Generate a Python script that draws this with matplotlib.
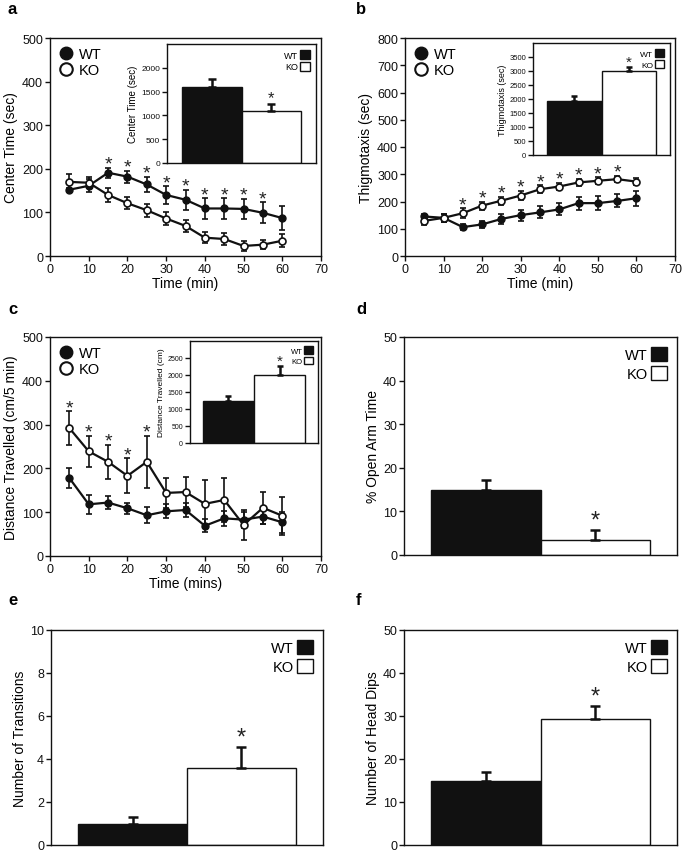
import matplotlib

matplotlib.use("Agg")
import matplotlib.pyplot as plt
from matplotlib.lines import Line2D
from matplotlib.patches import Patch

plt.rcParams["font.family"] = ["Liberation Sans", "DejaVu Sans"]

# ---- data ------------------------------------------------------------------
time = [5, 10, 15, 20, 25, 30, 35, 40, 45, 50, 55, 60]
groups = ["WT", "KO"]

center_wt = [152, 161, 191, 182, 164, 140, 129, 109, 109, 108, 99, 87]
center_wt_err = [5, 15, 11, 14, 18, 20, 23, 23, 23, 23, 24, 28]
center_ko = [170, 168, 140, 121, 105, 86, 69, 42, 39, 23, 26, 35]
center_ko_err = [18, 13, 16, 14, 15, 16, 14, 13, 13, 12, 11, 15]
center_stars = [15, 20, 25, 30, 35, 40, 45, 50, 55]
center_total = [1600, 1100]
center_total_err = [175, 135]

thigmo_wt = [145, 140, 106, 116, 136, 150, 160, 171, 194, 194, 202, 212]
thigmo_wt_err = [10, 15, 10, 12, 18, 20, 22, 22, 24, 25, 24, 28]
thigmo_ko = [129, 140, 157, 185, 203, 222, 245, 255, 270, 276, 282, 273]
thigmo_ko_err = [15, 15, 18, 15, 15, 17, 15, 14, 14, 13, 12, 14]
thigmo_stars = [15, 20, 25, 30, 35, 40, 45, 50, 55]
thigmo_total = [1920, 3000]
thigmo_total_err = [180, 140]

dist_wt = [178, 118, 122, 109, 93, 102, 105, 69, 86, 83, 90, 77]
dist_wt_err = [23, 21, 15, 12, 18, 16, 15, 15, 17, 18, 16, 24]
dist_ko = [292, 239, 215, 183, 215, 144, 146, 119, 128, 71, 110, 92]
dist_ko_err = [38, 36, 39, 40, 60, 34, 34, 55, 50, 34, 36, 43]
dist_stars = [5, 10, 15, 20, 25]
dist_total = [1230, 2000]
dist_total_err = [145, 255]

open_arm = [15.0, 3.4]
open_arm_err = [2.2, 2.3]
transitions = [1.0, 3.6]
transitions_err = [0.3, 0.95]
head_dips = [15.0, 29.2]
head_dips_err = [2.0, 3.1]

W, H = 685, 854
INK = "#111111"


def rect(x0, y0, x1, y1):
    """pixel box (top-left origin) -> figure fraction rect"""
    return [x0 / W, 1 - y1 / H, (x1 - x0) / W, (y1 - y0) / H]


def style_box(ax, lab_size, lw=1.0):
    for s in ax.spines.values():
        s.set_linewidth(lw)
        s.set_color(INK)
    ax.tick_params(direction="out", length=3.5, width=lw, labelsize=lab_size,
                   colors=INK, pad=1.5)


def time_panel(ax, wt, wt_err, ko, ko_err, stars, ylim, ystep, ylabel, xlabel):
    ax.errorbar(time, wt, yerr=wt_err, color=INK, lw=1.6, marker="o", ms=5,
                mfc=INK, mec=INK, capsize=2.5, elinewidth=1.2, capthick=1.2, zorder=3)
    ax.errorbar(time, ko, yerr=ko_err, color=INK, lw=1.6, marker="o", ms=5,
                mfc="white", mec=INK, mew=1.2, capsize=2.5, elinewidth=1.2,
                capthick=1.2, zorder=4)
    for t in stars:
        i = time.index(t)
        top = max(wt[i] + wt_err[i], ko[i] + ko_err[i])
        ax.annotate("*", (t, top), xytext=(0, -3.5), textcoords="offset points",
                    ha="center", va="bottom", fontsize=14, color="#222222")
    ax.set_xlim(0, 70)
    ax.set_xticks(range(0, 71, 10))
    ax.set_ylim(*ylim)
    ax.set_yticks(range(ylim[0], ylim[1] + 1, ystep))
    ax.set_ylabel(ylabel, fontsize=10, labelpad=3)
    ax.set_xlabel(xlabel, fontsize=10, labelpad=1)
    style_box(ax, 9)
    handles = [
        Line2D([], [], ls="none", marker="o", ms=9, mfc=INK, mec=INK),
        Line2D([], [], ls="none", marker="o", ms=9, mfc="white", mec=INK, mew=1.5),
    ]
    ax.legend(handles, groups, loc="upper left", frameon=False, fontsize=10.5,
              handletextpad=0.4, labelspacing=0.15, borderaxespad=0.2,
              handlelength=1.0)


def bar_panel(ax, vals, errs, ylim, yticks, ylabel, lab_size, ylab_size,
              leg_size, star_size, lw=1.0):
    x = [0, 1]
    ax.bar(x, vals, width=1.0, color=[INK, "white"], edgecolor=INK, linewidth=lw,
           zorder=2)
    for xi, v, e in zip(x, vals, errs):
        ax.errorbar([xi], [v], yerr=[[0], [e]], color=INK, lw=0, elinewidth=lw * 1.8,
                    capsize=star_size * 0.22, capthick=lw * 1.8, zorder=3)
    ax.annotate("*", (1, vals[1] + errs[1]), xytext=(0, -1), textcoords="offset points",
                ha="center", va="bottom", fontsize=star_size, color="#222222")
    ax.set_xlim(-0.75, 1.75)
    ax.set_xticks([])
    ax.set_ylim(*ylim)
    ax.set_yticks(yticks)
    ax.set_ylabel(ylabel, fontsize=ylab_size, labelpad=2)
    style_box(ax, lab_size, lw)
    handles = [Patch(facecolor=INK, edgecolor=INK, lw=lw),
               Patch(facecolor="white", edgecolor=INK, lw=lw)]
    ax.legend(handles, groups, loc="upper right", frameon=False, fontsize=leg_size,
              markerfirst=False, handlelength=1.1, handleheight=1.1,
              handletextpad=0.2, labelspacing=0.25, borderaxespad=0.3)


fig = plt.figure(figsize=(W / 100, H / 100), dpi=100)

# ---- a ---------------------------------------------------------------------
ax_a = fig.add_axes(rect(50, 39, 321, 257))
time_panel(ax_a, center_wt, center_wt_err, center_ko, center_ko_err, center_stars,
           (0, 500), 100, "Center Time (sec)", "Time (min)")
in_a = fig.add_axes(rect(167, 45, 316, 164))
bar_panel(in_a, center_total, center_total_err, (0, 2500), range(0, 2001, 500),
          "Center Time (sec)", 6, 7, 6.5, 12)

# ---- b ---------------------------------------------------------------------
ax_b = fig.add_axes(rect(405, 39, 675, 257))
time_panel(ax_b, thigmo_wt, thigmo_wt_err, thigmo_ko, thigmo_ko_err, thigmo_stars,
           (0, 800), 100, "Thigmotaxis (sec)", "Time (min)")
in_b = fig.add_axes(rect(533, 44, 670, 156))
bar_panel(in_b, thigmo_total, thigmo_total_err, (0, 4000), range(0, 3501, 500),
          "Thigmotaxis (sec)", 5.5, 6.5, 6, 11)

# ---- c ---------------------------------------------------------------------
ax_c = fig.add_axes(rect(50, 338, 321, 557))
time_panel(ax_c, dist_wt, dist_wt_err, dist_ko, dist_ko_err, dist_stars,
           (0, 500), 100, "Distance Travelled (cm/5 min)", "Time (mins)")
in_c = fig.add_axes(rect(190, 342, 318, 444))
bar_panel(in_c, dist_total, dist_total_err, (0, 3000), range(0, 2501, 500),
          "Distance Travelled (cm)", 5, 6, 5.5, 11)

# ---- d, e, f ---------------------------------------------------------------
ax_d = fig.add_axes(rect(404, 338, 677, 556))
bar_panel(ax_d, open_arm, open_arm_err, (0, 50), range(0, 51, 10),
          "% Open Arm Time", 9, 10, 10.5, 17)
ax_e = fig.add_axes(rect(51, 631, 323, 846))
bar_panel(ax_e, transitions, transitions_err, (0, 10), range(0, 11, 2),
          "Number of Transitions", 9, 10, 10.5, 17)
ax_f = fig.add_axes(rect(404, 631, 677, 846))
bar_panel(ax_f, head_dips, head_dips_err, (0, 50), range(0, 51, 10),
          "Number of Head Dips", 9, 10, 10.5, 17)

# panel letters
for letter, (px, py) in zip("abcdef", [(8, 10), (356, 10), (8, 309), (356, 309),
                                        (8, 601), (356, 601)]):
    fig.text(px / W, 1 - py / H, letter, fontsize=12, fontweight="bold",
             ha="left", va="center")

fig.savefig("out.png", dpi=100)
